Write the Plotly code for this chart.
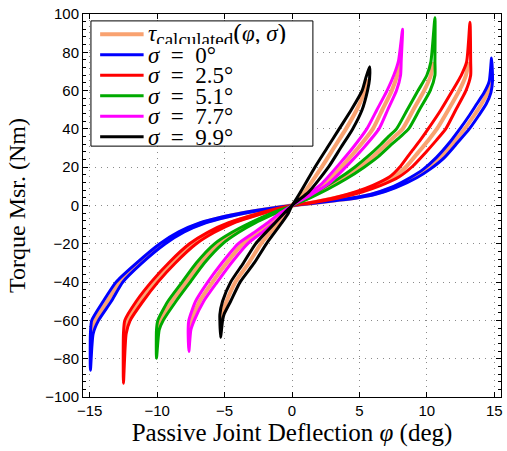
import plotly.graph_objects as go

# ---------------- data ----------------
SIGMA_LABELS = ["σ = 0°", "σ = 2.5°", "σ = 5.1°", "σ = 7.7°", "σ = 9.9°"]
CALC_LABEL = "τ_calculated(φ, σ)"
COLORS = ["#0000FF", "#FF0000", "#00AA00", "#FF00FF", "#000000"]
CALC_COLOR = "#F9A270"

X_TICKS = [-15, -10, -5, 0, 5, 10, 15]
Y_TICKS = [-100, -80, -60, -40, -20, 0, 20, 40, 60, 80, 100]

# Each loop: centre line (phi, tau) read from the picture and the half-width
# of the hysteresis loop (in deg) read at the same points.
# sigma = 0 deg
phi_pos_0 = [0, 1.5, 3, 4.5, 6, 7.5, 9, 10, 11, 12, 12.8, 13.5, 14.05, 14.5, 14.75, 14.8]
tau_pos_0 = [0, 1.2, 2.5, 3.8, 5.8, 9.3, 14.5, 19, 25, 33, 40, 47, 53, 59, 65, 77]
hw_pos_0 = [0, 0.1, 0.15, 0.2, 0.2, 0.2, 0.25, 0.25, 0.3, 0.3, 0.35, 0.35, 0.35, 0.25, 0.12, 0]
phi_neg_0 = [0, -1.7, -3.5, -5, -6.6, -8.2, -9.6, -11.4, -12.8, -13.7, -14.6, -14.85, -14.95]
tau_neg_0 = [0, -1.7, -3.8, -6, -9, -13.8, -20, -30.5, -40, -50, -60, -67, -86]
hw_neg_0 = [0, 0.1, 0.15, 0.2, 0.2, 0.2, 0.2, 0.2, 0.25, 0.3, 0.25, 0.1, 0]

# sigma = 2.5 deg
phi_pos_1 = [0, 1.2, 2.4, 3.7, 5, 6.3, 7.6, 8.5, 9.35, 10.1, 10.75, 11.6, 12.4, 12.9, 13.1, 13.2]
tau_pos_1 = [0, 1.2, 2.7, 4.7, 7.2, 10.5, 15, 20.5, 27.6, 34, 40, 50, 60, 68, 75, 95.7]
hw_pos_1 = [0, 0.1, 0.15, 0.2, 0.25, 0.3, 0.35, 0.45, 0.55, 0.6, 0.65, 0.55, 0.5, 0.35, 0.15, 0]
phi_neg_1 = [0, -1, -2.15, -4.5, -6, -7.35, -8.9, -10.2, -11.3, -12.2, -12.4, -12.5]
tau_neg_1 = [0, -1.6, -3.8, -9, -14, -20, -30, -40, -50, -60, -67, -92.8]
hw_neg_1 = [0, 0.1, 0.15, 0.2, 0.25, 0.25, 0.25, 0.25, 0.25, 0.2, 0.1, 0]

# sigma = 5.1 deg
phi_pos_2 = [0, 1.2, 2.4, 3.7, 5, 6, 7, 7.6, 8.2, 9, 9.8, 10.3, 10.45, 10.6]
tau_pos_2 = [0, 4, 8.5, 13.8, 20, 25.5, 32, 36, 40, 50, 60, 68, 75, 98]
hw_pos_2 = [0, 0.15, 0.25, 0.3, 0.35, 0.4, 0.4, 0.45, 0.45, 0.45, 0.45, 0.3, 0.15, 0]
phi_neg_2 = [0, -1.3, -2.9, -4.2, -5.45, -6.8, -7.85, -8.9, -9.75, -9.95, -10.05]
tau_neg_2 = [0, -3.8, -9, -14, -20, -30, -40, -50, -60, -65, -79.7]
hw_neg_2 = [0, 0.15, 0.2, 0.25, 0.3, 0.3, 0.3, 0.3, 0.2, 0.1, 0]

# sigma = 7.7 deg
phi_pos_3 = [0, 1.2, 2.4, 3.9, 4.9, 6, 6.7, 7.4, 7.8, 8, 8.2]
tau_pos_3 = [0, 5.3, 11, 22, 30, 40, 50, 60, 68, 75.6, 92]
hw_pos_3 = [0, 0.15, 0.25, 0.35, 0.4, 0.45, 0.4, 0.35, 0.25, 0.1, 0]
phi_neg_3 = [0, -0.7, -1.55, -2.6, -3.65, -4.85, -5.9, -6.85, -7.45, -7.6, -7.65]
tau_neg_3 = [0, -3.8, -9, -14.5, -20, -30, -40, -50, -60, -65, -76.2]
hw_neg_3 = [0, 0.15, 0.25, 0.3, 0.35, 0.35, 0.35, 0.3, 0.2, 0.1, 0]

# sigma = 9.9 deg
phi_pos_4 = [0, 0.93, 2.2, 3.1, 4.0, 4.8, 5.4, 5.6, 5.75]
tau_pos_4 = [0, 7, 20, 30, 40, 50, 60, 66, 72.5]
hw_pos_4 = [0, 0.3, 0.5, 0.5, 0.5, 0.4, 0.2, 0.15, 0]
phi_neg_4 = [0, -0.4, -1.0, -2.3, -3.2, -4.2, -4.85, -5.2, -5.25, -5.3]
tau_neg_4 = [0, -3.8, -9, -20, -30, -40, -50, -57, -60, -68.8]
hw_neg_4 = [0, 0.15, 0.25, 0.4, 0.4, 0.35, 0.3, 0.15, 0.1, 0]

PHI_POS = [phi_pos_0, phi_pos_1, phi_pos_2, phi_pos_3, phi_pos_4]
TAU_POS = [tau_pos_0, tau_pos_1, tau_pos_2, tau_pos_3, tau_pos_4]
HW_POS = [hw_pos_0, hw_pos_1, hw_pos_2, hw_pos_3, hw_pos_4]
PHI_NEG = [phi_neg_0, phi_neg_1, phi_neg_2, phi_neg_3, phi_neg_4]
TAU_NEG = [tau_neg_0, tau_neg_1, tau_neg_2, tau_neg_3, tau_neg_4]
HW_NEG = [hw_neg_0, hw_neg_1, hw_neg_2, hw_neg_3, hw_neg_4]

# ---------------- figure ----------------
fig = go.Figure()

# calculated model curves (orange): centre lines up to the knee
for i in range(5):
    xs = list(reversed(PHI_NEG[i][:-1])) + PHI_POS[i][1:-1]
    ys = list(reversed(TAU_NEG[i][:-1])) + TAU_POS[i][1:-1]
    fig.add_trace(go.Scatter(
        x=xs, y=ys, mode="lines",
        line=dict(color=CALC_COLOR, width=4, shape="spline", smoothing=0.6),
        name=CALC_LABEL, showlegend=False, hoverinfo="skip",
    ))

# measured hysteresis loops
for i in range(5):
    pa = [p + h for p, h in zip(PHI_POS[i], HW_POS[i])]
    pb = [p - h for p, h in zip(PHI_POS[i], HW_POS[i])]
    na = [p - h for p, h in zip(PHI_NEG[i], HW_NEG[i])]
    nb = [p + h for p, h in zip(PHI_NEG[i], HW_NEG[i])]
    tp, tn = TAU_POS[i], TAU_NEG[i]
    xs = pa + list(reversed(pb))[1:] + na[1:] + list(reversed(nb))[1:]
    ys = tp + list(reversed(tp))[1:] + tn[1:] + list(reversed(tn))[1:]
    fig.add_trace(go.Scatter(
        x=xs, y=ys, mode="lines",
        line=dict(color=COLORS[i], width=3, shape="spline", smoothing=0.6),
        name=SIGMA_LABELS[i], showlegend=False,
    ))

TICK_FONT = dict(family="Liberation Sans, Arial, sans-serif", size=15, color="black")
SERIF = "Liberation Serif, Times New Roman, serif"

axis_common = dict(
    showline=True, linecolor="black", linewidth=1, mirror="ticks",
    ticks="inside", ticklen=5, tickcolor="black",
    showgrid=True, gridcolor="#8a8a8a", gridwidth=1, griddash="1px,5px",
    zeroline=False, automargin=False, tickfont=TICK_FONT,
)

fig.update_xaxes(
    range=[-15.5, 15.5], tickvals=X_TICKS, **axis_common,
    title=dict(text="Passive Joint Deflection <i>φ</i> (deg)",
               font=dict(family=SERIF, size=25, color="black"), standoff=3),
)
fig.update_yaxes(
    range=[-100, 100], tickvals=Y_TICKS, **axis_common,
    minor=dict(dtick=4, ticklen=3, tickcolor="black", ticks="inside", showgrid=False),
    title=dict(text="Torque Msr. (Nm)",
               font=dict(family=SERIF, size=24, color="black"), standoff=12),
)

# legend box (drawn in paper coordinates, as in the reference)
LEG_X0, LEG_X1, LEG_Y0, LEG_Y1 = 0.019, 0.550, 0.655, 0.982
LEG_ROW0, LEG_STEP = 0.947, 0.0535
SAMPLE_X0, SAMPLE_X1, TEXT_X = 0.041, 0.145, 0.150
EQ = "\u2002=\u2002"

shapes = [dict(type="rect", xref="paper", yref="paper",
               x0=LEG_X0, x1=LEG_X1, y0=LEG_Y0, y1=LEG_Y1,
               line=dict(color="black", width=1), fillcolor="white", layer="above")]
annotations = []
leg_colors = [CALC_COLOR] + COLORS
leg_texts = ["<i>τ</i><sub><span style='font-size:19px'>calculated</span></sub>"
             "<span style='font-size:26px'>(</span><i>φ</i>, <i>σ</i>"
             "<span style='font-size:26px'>)</span>"] + \
    [s.replace("σ", "<i>σ</i>").replace(" = ", EQ) for s in SIGMA_LABELS]
for k, (c, t) in enumerate(zip(leg_colors, leg_texts)):
    yk = LEG_ROW0 - k * LEG_STEP
    shapes.append(dict(type="line", xref="paper", yref="paper",
                       x0=SAMPLE_X0, x1=SAMPLE_X1, y0=yk, y1=yk,
                       line=dict(color=c, width=4 if k == 0 else 3), layer="above"))
    annotations.append(dict(xref="paper", yref="paper", x=TEXT_X, y=yk,
                            xanchor="left", yanchor="middle", showarrow=False,
                            height=20, valign="middle",
                            text=t, font=dict(family=SERIF, size=23, color="black")))

fig.update_layout(
    width=507, height=451,
    margin=dict(l=83, r=6, t=14, b=54),
    paper_bgcolor="white", plot_bgcolor="white",
    showlegend=False,
    shapes=shapes, annotations=annotations,
)

fig.write_html("out.html", config={"displayModeBar": False},
               post_script="document.body.style.margin='0';")
